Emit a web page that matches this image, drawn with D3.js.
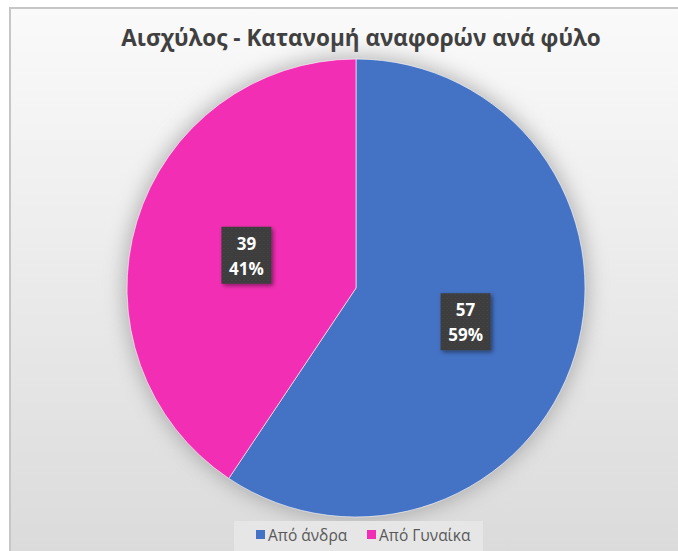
<!DOCTYPE html>
<html lang="el">
  <head>
    <meta charset="UTF-8" />
    <title>Αισχύλος</title>
    <style>
      body { margin: 0; background: #fff; }
      svg { display: block; font-family: "Open Sans", "Noto Sans", sans-serif; }
    </style>
  </head>
  <body>
    <svg id="chart" width="678" height="551"></svg>
  </body>
  <script src="https://cdn.jsdelivr.net/npm/d3@7"></script>
  <script>
    const categories = ["Από άνδρα", "Από Γυναίκα"];
    const values = [57, 39];
    const colors = ["#4472c4", "#f22fb4"];
    const title = "Αισχύλος - Κατανομή αναφορών ανά φύλο";

    const svg = d3.select("#chart");
    const defs = svg.append("defs");

    let bg = defs.append("linearGradient").attr("id", "bg")
      .attr("x1", 0).attr("y1", 0).attr("x2", 0).attr("y2", 1);
    bg.append("stop").attr("offset", "0%").attr("stop-color", "#fafafa");
    bg.append("stop").attr("offset", "100%").attr("stop-color", "#dadada");

    defs.append("filter").attr("id", "pieShadow")
      .attr("x", "-20%").attr("y", "-20%").attr("width", "140%").attr("height", "140%")
      .append("feGaussianBlur").attr("stdDeviation", 10);

    let ls = defs.append("filter").attr("id", "lblShadow")
      .attr("x", "-30%").attr("y", "-30%").attr("width", "160%").attr("height", "160%");
    ls.append("feDropShadow").attr("dx", 2).attr("dy", 2).attr("stdDeviation", 2)
      .attr("flood-color", "#000").attr("flood-opacity", 0.45);

    let pat = defs.append("pattern").attr("id", "dots")
      .attr("width", 4).attr("height", 4).attr("patternUnits", "userSpaceOnUse");
    pat.append("rect").attr("width", 4).attr("height", 4).attr("fill", "#3c3c3c");
    pat.append("rect").attr("x", 1).attr("y", 1).attr("width", 1).attr("height", 1).attr("fill", "#4e4e4e");
    pat.append("rect").attr("x", 3).attr("y", 3).attr("width", 1).attr("height", 1).attr("fill", "#474747");

    // chart area
    svg.append("rect").attr("x", 10).attr("y", 8).attr("width", 680).attr("height", 560)
      .attr("fill", "url(#bg)").attr("stroke", "#c6c6c6").attr("stroke-width", 2);

    svg.append("text").attr("x", 361).attr("y", 46).attr("text-anchor", "middle")
      .attr("font-size", 22.5).attr("font-weight", "bold").attr("fill", "#404040")
      .text(title);

    const cx = 356, cy = 288, r = 229;
    const g = svg.append("g").attr("transform", `translate(${cx},${cy})`);

    g.append("circle").attr("r", r + 3).attr("fill", "#8a8a8a").attr("opacity", 0.6)
      .attr("filter", "url(#pieShadow)");

    const pie = d3.pie().sort(null).value((d) => d.value);
    const arcs = pie(categories.map((c, i) => ({ name: c, value: values[i], color: colors[i] })));
    const arc = d3.arc().innerRadius(0).outerRadius(r);
    const labelArc = d3.arc().innerRadius(r * 0.5).outerRadius(r * 0.5);
    const total = d3.sum(values);

    g.selectAll("path").data(arcs).join("path")
      .attr("d", arc).attr("fill", (d) => d.data.color)
      .attr("stroke", "#fff").attr("stroke-width", 0.6);

    const lbl = g.selectAll("g.lbl").data(arcs).join("g").attr("class", "lbl")
      .attr("transform", (d) => `translate(${labelArc.centroid(d)})`);
    lbl.append("rect").attr("x", -25).attr("y", -28).attr("width", 50).attr("height", 57)
      .attr("fill", "url(#dots)").attr("filter", "url(#lblShadow)");
    lbl.append("text").attr("text-anchor", "middle").attr("y", -5)
      .attr("font-size", 17).attr("font-weight", "bold").attr("fill", "#fff")
      .text((d) => d.data.value);
    lbl.append("text").attr("text-anchor", "middle").attr("y", 20)
      .attr("font-size", 17).attr("font-weight", "bold").attr("fill", "#fff")
      .text((d) => d3.format(".0%")(d.data.value / total));

    // legend
    const leg = svg.append("g");
    leg.append("rect").attr("x", 234).attr("y", 521).attr("width", 249).attr("height", 40)
      .attr("fill", "#e6e6e6");
    const legX = d3.scaleOrdinal().domain(categories).range([256, 367]);
    const items = leg.selectAll("g.item").data(categories).join("g").attr("class", "item")
      .attr("transform", (d) => `translate(${legX(d)},530)`);
    items.append("rect").attr("width", 9).attr("height", 9).attr("fill", (d, i) => colors[i]);
    items.append("text").attr("x", 12).attr("y", 10.5).attr("font-size", 15.5).attr("fill", "#595959")
      .text((d) => d);
  </script>
</html>
